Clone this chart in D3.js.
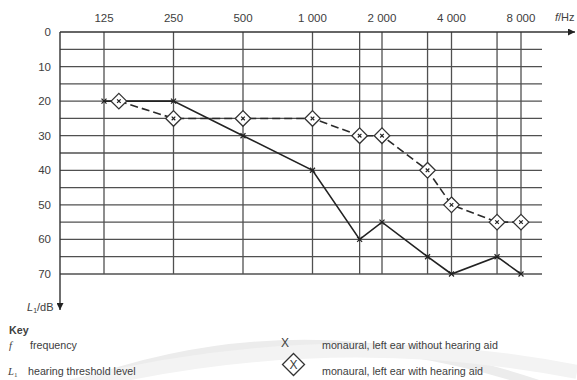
<!DOCTYPE html>
<html>
<head>
<meta charset="utf-8">
<script src="https://cdn.jsdelivr.net/npm/d3@7"></script>
<style>
  html, body { margin: 0; padding: 0; background: #fff; }
  svg { display: block; font-family: "Liberation Sans", Arial, sans-serif; }
</style>
</head>
<body>
<svg id="chart" width="577" height="380"></svg>
<script>
// Audiogram: hearing threshold level vs. frequency, left ear with and without hearing aid

// Frequency grid (Hz): octave lines plus intermediate lines
const gridFreqs = [125, 250, 500, 1000, 1600, 2000, 3150, 4000, 6300, 8000];
const labelFreqs = [125, 250, 500, 1000, 2000, 4000, 8000];
// Hearing level grid (dB)
const levelGrid = [0, 5, 10, 15, 20, 25, 30, 35, 40, 45, 50, 55, 60, 65, 70];
const levelLabels = [0, 10, 20, 30, 40, 50, 60, 70];

// Left ear without hearing aid
const unaidedFreq  = [125, 250, 500, 1000, 1600, 2000, 3150, 4000, 6300, 8000];
const unaidedLevel = [20, 20, 30, 40, 60, 55, 65, 70, 65, 70];

// Left ear with hearing aid
const aidedFreq  = [145, 250, 500, 1000, 1600, 2000, 3150, 4000, 6300, 8000];
const aidedLevel = [20, 25, 25, 25, 30, 30, 40, 50, 55, 55];

const svg = d3.select("#chart");
const textCol = "#404040";
const gridCol = "#505050";

const plot = { left: 60, right: 542, top: 32, bottom: 274 };

const x = d3.scaleLog().base(2).domain([125, 8000]).range([104, 521]);
const y = d3.scaleLinear().domain([0, 70]).range([plot.top, plot.bottom]);

// faint background arcs
const bg = svg.append("g").attr("fill", "none");
bg.append("path")
  .attr("d", "M 60 392 Q 290 300 540 385")
  .attr("stroke", "#ececec").attr("stroke-width", 9);
bg.append("path")
  .attr("d", "M 20 400 Q 300 318 577 372")
  .attr("stroke", "#f3f3f3").attr("stroke-width", 14);

const defs = svg.append("defs");
defs.append("marker")
  .attr("id", "arrow")
  .attr("viewBox", "0 0 10 10")
  .attr("refX", 10).attr("refY", 5)
  .attr("markerWidth", 9).attr("markerHeight", 7)
  .attr("markerUnits", "userSpaceOnUse")
  .attr("orient", "auto")
  .append("path").attr("d", "M0,0 L10,5 L0,10 Z").attr("fill", "#222");

const grid = svg.append("g");

// horizontal grid lines
grid.selectAll("line.h")
  .data(levelGrid.filter(d => d > 0))
  .join("line")
  .attr("x1", plot.left).attr("x2", plot.right)
  .attr("y1", d => y(d)).attr("y2", d => y(d))
  .attr("stroke", gridCol).attr("stroke-width", 1.3);

// vertical grid lines
grid.selectAll("line.v")
  .data(gridFreqs)
  .join("line")
  .attr("x1", d => x(d)).attr("x2", d => x(d))
  .attr("y1", plot.top).attr("y2", y(70))
  .attr("stroke", gridCol).attr("stroke-width", 1.3);

// frequency axis along the top, with arrow
grid.append("line")
  .attr("x1", plot.left).attr("x2", 575)
  .attr("y1", plot.top).attr("y2", plot.top)
  .attr("stroke", "#333").attr("stroke-width", 1.4)
  .attr("marker-end", "url(#arrow)");

// level axis on the left, with arrow pointing down
grid.append("line")
  .attr("x1", plot.left).attr("x2", plot.left)
  .attr("y1", plot.top).attr("y2", 310)
  .attr("stroke", "#333").attr("stroke-width", 1.4)
  .attr("marker-end", "url(#arrow)");

// frequency labels ("1 000" style thousands separator)
const fmt = d => d3.format(",")(d).replace(/,/g, " ");
svg.append("g").selectAll("text")
  .data(labelFreqs)
  .join("text")
  .attr("x", d => x(d)).attr("y", 22)
  .attr("text-anchor", "middle")
  .attr("font-size", 11.5).attr("fill", textCol)
  .text(d => fmt(d));

// level labels
svg.append("g").selectAll("text")
  .data(levelLabels)
  .join("text")
  .attr("x", 51).attr("y", d => y(d) + 4)
  .attr("text-anchor", "end")
  .attr("font-size", 11.5).attr("fill", textCol)
  .text(d => d);

// axis titles
const fHz = svg.append("text").attr("x", 555).attr("y", 21)
  .attr("font-size", 11).attr("fill", textCol);
fHz.append("tspan").attr("font-style", "italic").text("f");
fHz.append("tspan").text("/Hz");

const lDb = svg.append("text").attr("x", 27).attr("y", 311)
  .attr("font-size", 11).attr("fill", textCol);
lDb.append("tspan").attr("font-style", "italic").text("L");
lDb.append("tspan").attr("font-size", 7).attr("dy", 2).text("1");
lDb.append("tspan").attr("dy", -2).text("/dB");

// series lines
const line = d3.line().x(d => x(d[0])).y(d => y(d[1]));
const unaided = unaidedFreq.map((f, i) => [f, unaidedLevel[i]]);
const aided = aidedFreq.map((f, i) => [f, aidedLevel[i]]);

svg.append("path").datum(aided)
  .attr("d", line).attr("fill", "none")
  .attr("stroke", "#2a2a2a").attr("stroke-width", 1.6)
  .attr("stroke-dasharray", "8,4");

svg.append("path").datum(unaided)
  .attr("d", line).attr("fill", "none")
  .attr("stroke", "#222").attr("stroke-width", 1.6);

// X markers (unaided)
const cross = (g, s) => g.append("path")
  .attr("d", `M${-s},${-s}L${s},${s}M${-s},${s}L${s},${-s}`)
  .attr("stroke", "#222").attr("stroke-width", 1.2).attr("fill", "none");

svg.append("g").selectAll("g")
  .data(unaided).join("g")
  .attr("transform", d => `translate(${x(d[0])},${y(d[1])})`)
  .each(function () { cross(d3.select(this), 2.5); });

// diamond markers with inner x (aided)
const diamond = (g, r, s) => {
  g.append("path")
    .attr("d", `M0,${-r}L${r},0L0,${r}L${-r},0Z`)
    .attr("fill", "#fff").attr("stroke", "#333").attr("stroke-width", 1.3);
  cross(g, s);
};
svg.append("g").selectAll("g")
  .data(aided).join("g")
  .attr("transform", d => `translate(${x(d[0])},${y(d[1])})`)
  .each(function () { diamond(d3.select(this), 7.8, 1.8); });

// key
const key = svg.append("g").attr("fill", textCol).attr("font-size", 10.7);
key.append("text").attr("x", 9).attr("y", 334)
  .attr("font-weight", "bold").text("Key");
key.append("text").attr("x", 9).attr("y", 349)
  .attr("font-style", "italic").attr("font-family", "Liberation Serif, serif").text("f");
key.append("text").attr("x", 30).attr("y", 349).text("frequency");
const l1 = key.append("text").attr("x", 8).attr("y", 375)
  .attr("font-family", "Liberation Serif, serif");
l1.append("tspan").attr("font-style", "italic").text("L");
l1.append("tspan").attr("font-size", 7).attr("dy", 2).text("1");
key.append("text").attr("x", 28).attr("y", 375).text("hearing threshold level");

key.append("text").attr("x", 285).attr("y", 347)
  .attr("text-anchor", "middle").attr("font-size", 12).text("X");
key.append("text").attr("x", 322).attr("y", 349)
  .text("monaural, left ear without hearing aid");

const kd = key.append("g").attr("transform", "translate(293.5,364.5)");
kd.append("path").attr("d", "M0,-11L11,0L0,11L-11,0Z")
  .attr("fill", "#fff").attr("stroke", "#333").attr("stroke-width", 1.3);
kd.append("text").attr("x", 0).attr("y", 4.5)
  .attr("text-anchor", "middle").attr("font-size", 12).text("X");
key.append("text").attr("x", 322).attr("y", 375)
  .text("monaural, left ear with hearing aid");
</script>
</body>
</html>
